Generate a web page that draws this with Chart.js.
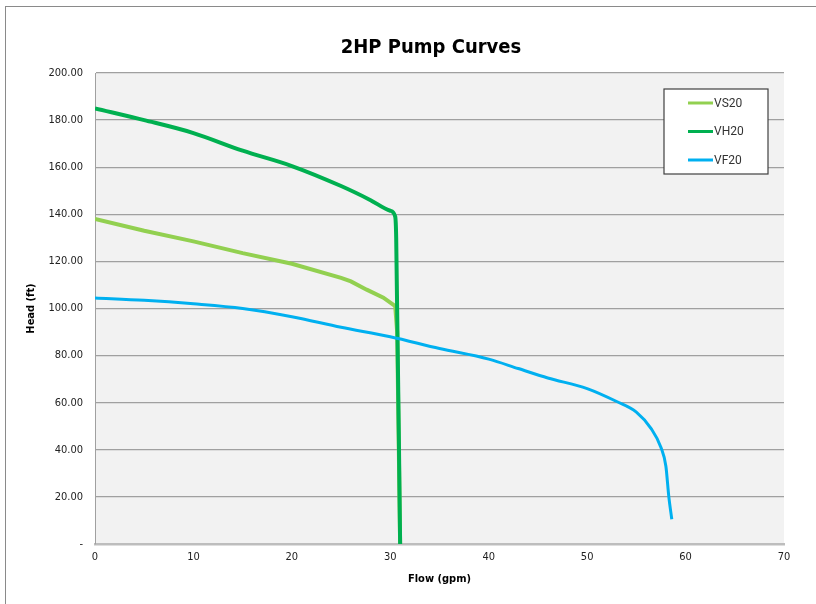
<!DOCTYPE html>
<html>
<head>
<meta charset="utf-8">
<script src="https://cdn.jsdelivr.net/npm/chart.js@4"></script>
<style>
    html, body { margin: 0; padding: 0; background: #fff; overflow: hidden; }
    body { width: 816px; height: 604px; position: relative; }
    #frame {
        position: absolute; left: 5px; top: 6px;
        width: 850px; height: 600px;
        border: 1.5px solid #8a8a8a;
    }
</style>
</head>
<body>
<div id="frame"><canvas id="pumpChart"></canvas></div>
<script>
// Datos (flujo en gpm, altura en ft)
const vsFlow = [0, 5, 10, 15, 20, 25, 26, 27.6, 29.3, 30.5, 30.7, 31];
const vsHead = [138, 133, 128.5, 123.5, 119, 113, 111.5, 108, 104.6, 101, 90, 0];

const vhFlow = [0, 5, 10, 15, 20, 25, 28, 30, 30.5, 30.6, 31];
const vhHead = [185, 180, 174.5, 167, 160.5, 152, 146, 141.5, 139, 130, 0];

const vfFlow = [0, 5, 10, 15, 20, 25, 30, 35, 40, 43, 46, 50, 53, 55, 56.5, 57.5, 58, 58.3, 58.6];
const vfHead = [104.5, 103.5, 102, 100, 96.5, 92, 88, 83, 78.5, 74.5, 70.5, 66, 60.5, 56, 49, 41, 33, 20, 10.5];

const xTicks = [0, 10, 20, 30, 40, 50, 60, 70];
const yTicks = [0, 20, 40, 60, 80, 100, 120, 140, 160, 180, 200];

const axisFont = "'DejaVu Sans Condensed', 'Liberation Sans', sans-serif";

function toPoints(xs, ys) {
    return xs.map((x, i) => ({ x: x, y: ys[i] }));
}

// Fondo gris del área de trazado
const plotBackground = {
    id: 'plotBackground',
    beforeDraw(chart) {
        const { ctx, chartArea: a } = chart;
        ctx.save();
        ctx.fillStyle = '#f2f2f2';
        ctx.fillRect(a.left, a.top, a.right - a.left, a.bottom - a.top);
        ctx.restore();
    }
};

// Leyenda en recuadro dentro del gráfico
const boxLegend = {
    id: 'boxLegend',
    afterDraw(chart) {
        const ctx = chart.ctx;
        const bx = 658, by = 82, bw = 104, bh = 85;
        ctx.save();
        ctx.fillStyle = '#ffffff';
        ctx.fillRect(bx, by, bw, bh);
        ctx.strokeStyle = '#404040';
        ctx.lineWidth = 1.2;
        ctx.strokeRect(bx, by, bw, bh);
        ctx.font = '12px Roboto, sans-serif';
        ctx.textBaseline = 'middle';
        chart.data.datasets.forEach((ds, i) => {
            const y = by + 14 + i * 28.5;
            ctx.strokeStyle = ds.borderColor;
            ctx.lineWidth = 3;
            ctx.beginPath();
            ctx.moveTo(bx + 24, y);
            ctx.lineTo(bx + 49, y);
            ctx.stroke();
            ctx.fillStyle = '#333';
            ctx.fillText(ds.label, bx + 50, y + 0.5);
        });
        ctx.restore();
    }
};

new Chart(document.getElementById('pumpChart'), {
    type: 'scatter',
    data: {
        datasets: [
            {
                label: 'VS20',
                data: toPoints(vsFlow, vsHead),
                borderColor: '#92d050',
                borderWidth: 4,
                cubicInterpolationMode: 'default',
                tension: 0,
                order: 3
            },
            {
                label: 'VH20',
                data: toPoints(vhFlow, vhHead),
                borderColor: '#00b050',
                borderWidth: 4,
                order: 2
            },
            {
                label: 'VF20',
                data: toPoints(vfFlow, vfHead),
                borderColor: '#00b0f0',
                borderWidth: 3,
                order: 1
            }
        ]
    },
    options: {
        responsive: true,
        maintainAspectRatio: false,
        animation: false,
        layout: { padding: 0 },
        elements: {
            point: { radius: 0, hoverRadius: 0 },
            line: { cubicInterpolationMode: 'monotone' }
        },
        datasets: {
            scatter: { showLine: true, fill: false }
        },
        plugins: {
            legend: { display: false },
            tooltip: { enabled: false },
            title: {
                display: true,
                text: '2HP Pump Curves',
                color: '#000',
                font: { family: axisFont, size: 20, weight: 'bold', lineHeight: 1.2 },
                padding: { top: 29, bottom: 13 }
            }
        },
        scales: {
            x: {
                type: 'linear',
                min: 0,
                max: 70,
                afterFit(scale) { scale.height = 63; },
                afterBuildTicks(scale) { scale.ticks = xTicks.map(v => ({ value: v })); },
                grid: { display: false, drawTicks: false },
                border: { display: true, color: '#bdbdbd', width: 2.5 },
                ticks: {
                    color: '#222',
                    padding: 7,
                    font: { family: axisFont, size: 11 },
                    maxRotation: 0
                },
                title: {
                    display: true,
                    text: 'Flow (gpm)',
                    color: '#000',
                    font: { family: axisFont, size: 11, weight: 'bold' },
                    padding: { top: 0, bottom: 21 }
                }
            },
            y: {
                type: 'linear',
                min: 0,
                max: 200,
                afterFit(scale) { scale.width = 89; },
                afterBuildTicks(scale) { scale.ticks = yTicks.map(v => ({ value: v })); },
                grid: { color: '#a0a0a0', lineWidth: 1.3, drawTicks: false },
                border: { display: true, color: '#a0a0a0', width: 1 },
                ticks: {
                    color: '#222',
                    padding: 12,
                    font: { family: axisFont, size: 11 },
                    callback: (v) => v === 0 ? '-' : v.toFixed(2)
                },
                title: {
                    display: true,
                    text: 'Head (ft)',
                    color: '#000',
                    font: { family: axisFont, size: 11, weight: 'bold' },
                    padding: { top: 19, bottom: 0 }
                }
            },
            // eje vacío a la derecha: sólo reserva el margen del marco
            yRight: {
                type: 'linear',
                position: 'right',
                min: 0,
                max: 200,
                afterFit(scale) { scale.width = 72; },
                grid: { display: false, drawTicks: false },
                border: { display: false },
                ticks: { display: false }
            }
        }
    },
    plugins: [plotBackground, boxLegend]
});
</script>
</body>
</html>
